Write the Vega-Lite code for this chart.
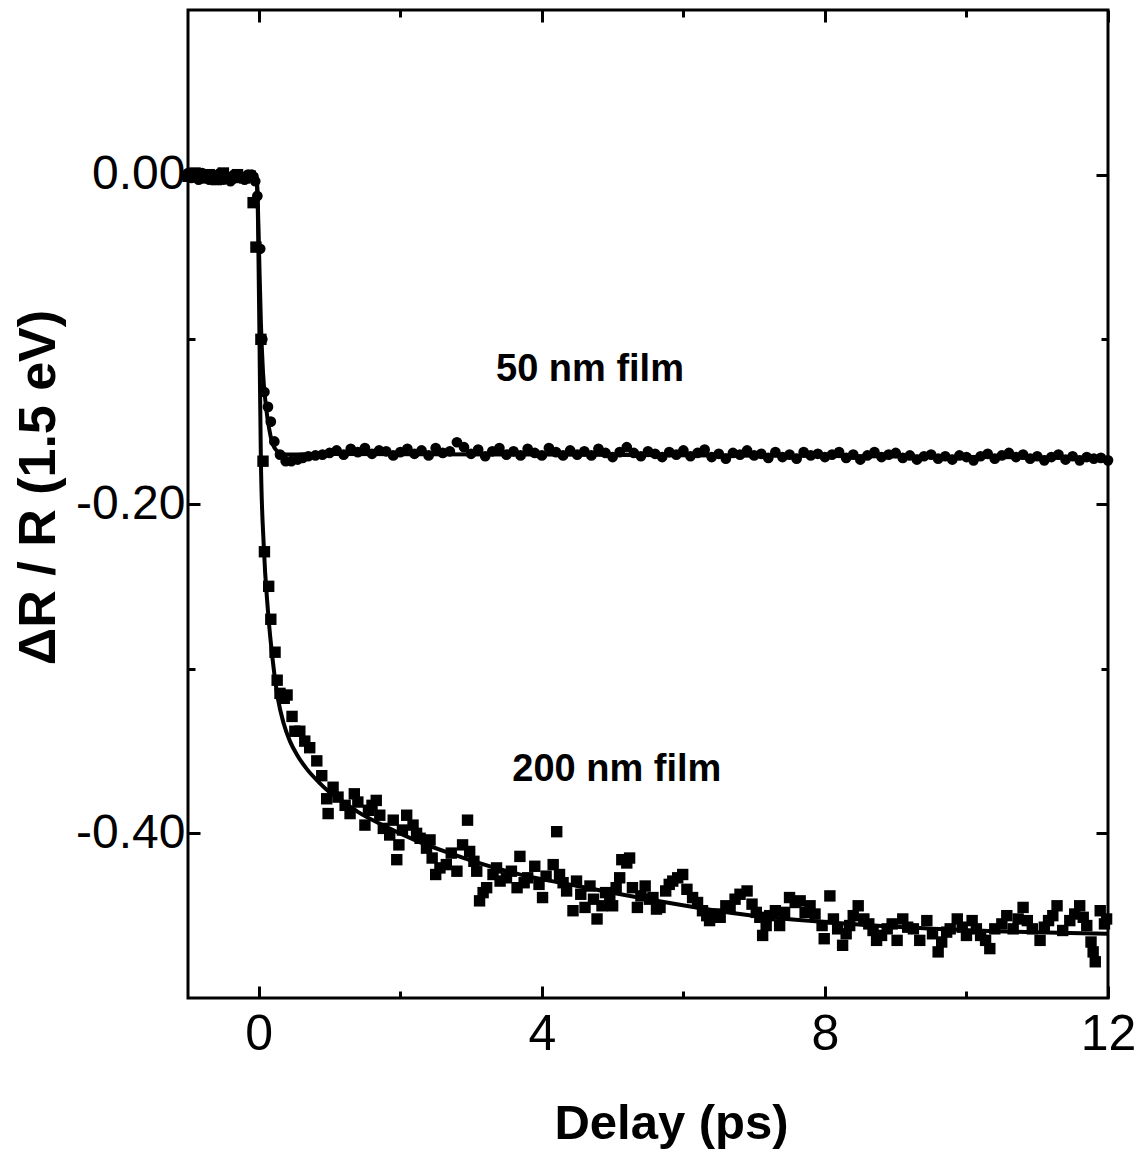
{
"$schema": "https://vega.github.io/schema/vega-lite/v6.json",
"width": 920, "height": 988,
"autosize": {"type": "none"},
"padding": {"left": 188, "top": 10, "right": 36, "bottom": 158},
"background": "white",
"config": {"view": {"stroke": "black", "strokeWidth": 3}},
"datasets": {
"f50": [
{"x":-1.00,"y":0.001},{"x":-0.95,"y":-0.002},{"x":-0.90,"y":0.000},{"x":-0.85,"y":-0.003},{"x":-0.80,"y":0.001},{"x":-0.75,"y":-0.001},{"x":-0.70,"y":-0.003},{"x":-0.65,"y":0.000},{"x":-0.60,"y":-0.002},{"x":-0.55,"y":0.001},{"x":-0.50,"y":-0.003},{"x":-0.45,"y":-0.001},{"x":-0.40,"y":-0.004},{"x":-0.35,"y":0.000},{"x":-0.30,"y":-0.002},{"x":-0.25,"y":-0.001},{"x":-0.20,"y":-0.003},{"x":-0.15,"y":0.000},{"x":-0.10,"y":0.000},{"x":-0.05,"y":-0.004},
{"x":-0.02,"y":-0.013},{"x":0.02,"y":-0.045},{"x":0.05,"y":-0.100},{"x":0.08,"y":-0.132},{"x":0.13,"y":-0.141},{"x":0.17,"y":-0.150},{"x":0.22,"y":-0.162},{"x":0.30,"y":-0.170},{"x":0.38,"y":-0.174},{"x":0.46,"y":-0.174},{"x":0.55,"y":-0.173},{"x":0.62,"y":-0.172},{"x":0.70,"y":-0.171},{"x":0.80,"y":-0.1705},
{"x":0.9,"y":-0.1700},{"x":1.0,"y":-0.1690},{"x":1.1,"y":-0.1675},{"x":1.2,"y":-0.1700},{"x":1.3,"y":-0.1665},{"x":1.4,"y":-0.1685},{"x":1.5,"y":-0.1660},{"x":1.6,"y":-0.1695},{"x":1.7,"y":-0.1675},{"x":1.8,"y":-0.1680},{"x":1.9,"y":-0.1705},{"x":2.0,"y":-0.1685},{"x":2.1,"y":-0.1665},{"x":2.2,"y":-0.1695},{"x":2.3,"y":-0.1675},{"x":2.4,"y":-0.1705},{"x":2.5,"y":-0.1660},{"x":2.6,"y":-0.1690},{"x":2.7,"y":-0.1680},{"x":2.8,"y":-0.1625},{"x":2.9,"y":-0.1655},{"x":3.0,"y":-0.1695},{"x":3.1,"y":-0.1670},{"x":3.2,"y":-0.1710},{"x":3.3,"y":-0.1680},{"x":3.4,"y":-0.1660},{"x":3.5,"y":-0.1700},{"x":3.6,"y":-0.1680},{"x":3.7,"y":-0.1705},{"x":3.8,"y":-0.1665},{"x":3.9,"y":-0.1690},{"x":4.0,"y":-0.1705},{"x":4.1,"y":-0.1660},{"x":4.2,"y":-0.1685},{"x":4.3,"y":-0.1705},{"x":4.4,"y":-0.1675},{"x":4.5,"y":-0.1700},{"x":4.6,"y":-0.1680},{"x":4.7,"y":-0.1705},{"x":4.8,"y":-0.1665},{"x":4.9,"y":-0.1690},{"x":5.0,"y":-0.1715},{"x":5.1,"y":-0.1685},{"x":5.2,"y":-0.1655},{"x":5.3,"y":-0.1690},{"x":5.4,"y":-0.1710},{"x":5.5,"y":-0.1680},{"x":5.6,"y":-0.1695},{"x":5.7,"y":-0.1715},{"x":5.8,"y":-0.1685},{"x":5.9,"y":-0.1700},{"x":6.0,"y":-0.1675},{"x":6.1,"y":-0.1710},{"x":6.2,"y":-0.1690},{"x":6.3,"y":-0.1670},{"x":6.4,"y":-0.1715},{"x":6.5,"y":-0.1695},{"x":6.6,"y":-0.1725},{"x":6.7,"y":-0.1690},{"x":6.8,"y":-0.1700},{"x":6.9,"y":-0.1675},{"x":7.0,"y":-0.1705},{"x":7.1,"y":-0.1695},{"x":7.2,"y":-0.1720},{"x":7.3,"y":-0.1685},{"x":7.4,"y":-0.1715},{"x":7.5,"y":-0.1700},{"x":7.6,"y":-0.1725},{"x":7.7,"y":-0.1685},{"x":7.8,"y":-0.1705},{"x":7.9,"y":-0.1695},{"x":8.0,"y":-0.1715},{"x":8.1,"y":-0.1700},{"x":8.2,"y":-0.1685},{"x":8.3,"y":-0.1720},{"x":8.4,"y":-0.1700},{"x":8.5,"y":-0.1730},{"x":8.6,"y":-0.1705},{"x":8.7,"y":-0.1685},{"x":8.8,"y":-0.1715},{"x":8.9,"y":-0.1700},{"x":9.0,"y":-0.1690},{"x":9.1,"y":-0.1720},{"x":9.2,"y":-0.1705},{"x":9.3,"y":-0.1730},{"x":9.4,"y":-0.1710},{"x":9.5,"y":-0.1700},{"x":9.6,"y":-0.1725},{"x":9.7,"y":-0.1710},{"x":9.8,"y":-0.1730},{"x":9.9,"y":-0.1705},{"x":10.0,"y":-0.1715},{"x":10.1,"y":-0.1735},{"x":10.2,"y":-0.1710},{"x":10.3,"y":-0.1695},{"x":10.4,"y":-0.1725},{"x":10.5,"y":-0.1705},{"x":10.6,"y":-0.1690},{"x":10.7,"y":-0.1715},{"x":10.8,"y":-0.1700},{"x":10.9,"y":-0.1725},{"x":11.0,"y":-0.1710},{"x":11.1,"y":-0.1735},{"x":11.2,"y":-0.1715},{"x":11.3,"y":-0.1700},{"x":11.4,"y":-0.1730},{"x":11.5,"y":-0.1710},{"x":11.6,"y":-0.1735},{"x":11.7,"y":-0.1715},{"x":11.8,"y":-0.1725},{"x":11.9,"y":-0.1720},{"x":12.0,"y":-0.1735}
],
"f200": [
{"x":-1.00,"y":-0.001},{"x":-0.90,"y":0.001},{"x":-0.80,"y":-0.002},{"x":-0.70,"y":0.000},{"x":-0.60,"y":-0.003},{"x":-0.50,"y":0.001},{"x":-0.40,"y":-0.002},{"x":-0.30,"y":0.000},{"x":-0.20,"y":-0.002},{"x":-0.12,"y":-0.001},
{"x":-0.08,"y":-0.017},{"x":-0.04,"y":-0.044},{"x":0.03,"y":-0.100},{"x":0.06,"y":-0.174},{"x":0.08,"y":-0.229},{"x":0.14,"y":-0.250},{"x":0.17,"y":-0.270},{"x":0.23,"y":-0.290},{"x":0.26,"y":-0.307},{"x":0.30,"y":-0.315},{"x":0.36,"y":-0.318},{"x":0.40,"y":-0.316},{"x":0.47,"y":-0.329},{"x":0.51,"y":-0.338},{"x":0.58,"y":-0.338},{"x":0.65,"y":-0.344},{"x":0.72,"y":-0.348},{"x":0.82,"y":-0.356},{"x":0.89,"y":-0.365},{"x":0.96,"y":-0.379},{"x":0.98,"y":-0.388},
{"x":1.05,"y":-0.372},{"x":1.12,"y":-0.378},{"x":1.22,"y":-0.383},{"x":1.29,"y":-0.388},{"x":1.35,"y":-0.376},{"x":1.40,"y":-0.381},{"x":1.50,"y":-0.395},{"x":1.55,"y":-0.386},{"x":1.60,"y":-0.383},{"x":1.66,"y":-0.380},{"x":1.71,"y":-0.389},{"x":1.76,"y":-0.397},{"x":1.85,"y":-0.401},{"x":1.90,"y":-0.392},{"x":1.95,"y":-0.416},{"x":1.98,"y":-0.407},{"x":2.03,"y":-0.398},{"x":2.09,"y":-0.389},{"x":2.18,"y":-0.395},{"x":2.23,"y":-0.400},{"x":2.28,"y":-0.403},{"x":2.37,"y":-0.409},{"x":2.42,"y":-0.404},{"x":2.45,"y":-0.415},{"x":2.50,"y":-0.425},{"x":2.56,"y":-0.421},{"x":2.65,"y":-0.419},{"x":2.72,"y":-0.412},{"x":2.80,"y":-0.423},{"x":2.88,"y":-0.407},{"x":2.95,"y":-0.392},{"x":2.98,"y":-0.411},{"x":3.04,"y":-0.417},{"x":3.08,"y":-0.423},{"x":3.12,"y":-0.441},{"x":3.17,"y":-0.436},{"x":3.22,"y":-0.433},{"x":3.31,"y":-0.425},{"x":3.36,"y":-0.421},{"x":3.41,"y":-0.429},{"x":3.50,"y":-0.427},{"x":3.57,"y":-0.423},{"x":3.65,"y":-0.433},{"x":3.69,"y":-0.414},{"x":3.75,"y":-0.430},{"x":3.80,"y":-0.427},{"x":3.90,"y":-0.420},{"x":3.96,"y":-0.431},{"x":4.01,"y":-0.439},{"x":4.06,"y":-0.426},{"x":4.16,"y":-0.419},{"x":4.21,"y":-0.399},{"x":4.25,"y":-0.425},{"x":4.30,"y":-0.430},{"x":4.35,"y":-0.435},{"x":4.44,"y":-0.447},{"x":4.49,"y":-0.429},{"x":4.55,"y":-0.437},{"x":4.61,"y":-0.445},{"x":4.68,"y":-0.432},{"x":4.73,"y":-0.440},{"x":4.78,"y":-0.452},{"x":4.85,"y":-0.444},{"x":4.90,"y":-0.436},{"x":4.96,"y":-0.439},{"x":5.00,"y":-0.444},{"x":5.05,"y":-0.433},{"x":5.10,"y":-0.427},{"x":5.13,"y":-0.416},{"x":5.20,"y":-0.418},{"x":5.24,"y":-0.415},{"x":5.28,"y":-0.433},{"x":5.35,"y":-0.445},{"x":5.40,"y":-0.438},{"x":5.46,"y":-0.432},{"x":5.52,"y":-0.440},{"x":5.57,"y":-0.439},{"x":5.62,"y":-0.446},{"x":5.67,"y":-0.445},{"x":5.75,"y":-0.435},{"x":5.80,"y":-0.431},{"x":5.85,"y":-0.429},{"x":5.92,"y":-0.427},{"x":5.99,"y":-0.425},{"x":6.05,"y":-0.434},{"x":6.13,"y":-0.439},{"x":6.20,"y":-0.442},{"x":6.27,"y":-0.447},{"x":6.33,"y":-0.450},{"x":6.37,"y":-0.453},{"x":6.45,"y":-0.449},{"x":6.52,"y":-0.451},{"x":6.60,"y":-0.444},{"x":6.66,"y":-0.445},{"x":6.73,"y":-0.440},{"x":6.80,"y":-0.437},{"x":6.90,"y":-0.435},{"x":6.97,"y":-0.443},{"x":7.03,"y":-0.448},{"x":7.08,"y":-0.451},{"x":7.12,"y":-0.462},{"x":7.17,"y":-0.456},{"x":7.22,"y":-0.450},{"x":7.30,"y":-0.447},{"x":7.36,"y":-0.456},{"x":7.43,"y":-0.448},{"x":7.50,"y":-0.439},{"x":7.58,"y":-0.442},{"x":7.65,"y":-0.441},{"x":7.72,"y":-0.448},{"x":7.79,"y":-0.444},{"x":7.86,"y":-0.449},{"x":7.96,"y":-0.456},{"x":7.99,"y":-0.464},{"x":8.07,"y":-0.438},{"x":8.12,"y":-0.452},{"x":8.18,"y":-0.458},{"x":8.25,"y":-0.468},{"x":8.30,"y":-0.461},{"x":8.35,"y":-0.456},{"x":8.40,"y":-0.450},{"x":8.47,"y":-0.444},{"x":8.55,"y":-0.452},{"x":8.62,"y":-0.455},{"x":8.68,"y":-0.459},{"x":8.73,"y":-0.465},{"x":8.80,"y":-0.462},{"x":8.88,"y":-0.458},{"x":8.95,"y":-0.455},{"x":9.02,"y":-0.465},{"x":9.10,"y":-0.452},{"x":9.17,"y":-0.457},{"x":9.25,"y":-0.458},{"x":9.34,"y":-0.465},{"x":9.44,"y":-0.453},{"x":9.52,"y":-0.461},{"x":9.60,"y":-0.472},{"x":9.65,"y":-0.466},{"x":9.72,"y":-0.460},{"x":9.77,"y":-0.458},{"x":9.87,"y":-0.452},{"x":9.94,"y":-0.457},{"x":10.00,"y":-0.462},{"x":10.08,"y":-0.453},{"x":10.14,"y":-0.458},{"x":10.20,"y":-0.462},{"x":10.27,"y":-0.465},{"x":10.33,"y":-0.470},{"x":10.40,"y":-0.458},{"x":10.50,"y":-0.455},{"x":10.57,"y":-0.450},{"x":10.66,"y":-0.458},{"x":10.73,"y":-0.452},{"x":10.80,"y":-0.445},{"x":10.86,"y":-0.453},{"x":10.93,"y":-0.458},{"x":11.04,"y":-0.465},{"x":11.10,"y":-0.457},{"x":11.16,"y":-0.453},{"x":11.22,"y":-0.450},{"x":11.28,"y":-0.444},{"x":11.36,"y":-0.459},{"x":11.46,"y":-0.453},{"x":11.53,"y":-0.449},{"x":11.60,"y":-0.444},{"x":11.65,"y":-0.451},{"x":11.70,"y":-0.456},{"x":11.76,"y":-0.466},{"x":11.79,"y":-0.472},{"x":11.82,"y":-0.478},{"x":11.89,"y":-0.447},{"x":11.95,"y":-0.455},{"x":11.98,"y":-0.452}
],
"fit50": [
{"x":-1,"y":0},{"x":-0.05,"y":0},{"x":-0.02,"y":-0.01},{"x":0.0,"y":-0.04},{"x":0.03,"y":-0.09},{"x":0.06,"y":-0.12},{"x":0.1,"y":-0.14},{"x":0.15,"y":-0.155},{"x":0.2,"y":-0.164},{"x":0.3,"y":-0.169},{"x":0.4,"y":-0.1700},{"x":1,"y":-0.1697},{"x":4,"y":-0.1700},{"x":8,"y":-0.1708},{"x":12,"y":-0.1720}
],
"fit200": [
{"x":-1,"y":0},{"x":-0.03,"y":0},{"x":-0.01,"y":-0.03},{"x":0.01,"y":-0.1},{"x":0.03,"y":-0.174},{"x":0.07,"y":-0.225},{"x":0.13,"y":-0.265},{"x":0.2,"y":-0.296},{"x":0.27,"y":-0.318},{"x":0.35,"y":-0.333},{"x":0.44,"y":-0.344},{"x":0.55,"y":-0.353},{"x":0.68,"y":-0.361},{"x":0.85,"y":-0.369},{"x":1.0,"y":-0.375},{"x":1.2,"y":-0.381},{"x":1.4,"y":-0.387},{"x":1.8,"y":-0.396},{"x":2.2,"y":-0.404},{"x":2.9,"y":-0.415},{"x":3.6,"y":-0.424},{"x":4.5,"y":-0.432},{"x":5.5,"y":-0.440},{"x":6.8,"y":-0.449},{"x":8.7,"y":-0.456},{"x":10.1,"y":-0.459},{"x":12,"y":-0.461}
],
"labels": [
{"x":4.68,"y":-0.1255,"label":"50 nm film"},
{"x":5.06,"y":-0.368,"label":"200 nm film"}
]
},
"layer": [
{
"encoding": {
"x": {"field": "x", "type": "quantitative",
"scale": {"domain": [-1, 12], "nice": false, "zero": false},
"axis": {"orient": "bottom", "values": [0, 2, 4, 6, 8, 10, 12], "domain": false, "grid": false,
"tickColor": "black", "tickWidth": 3,
"tickSize": {"condition": {"test": "datum.value % 4 == 0", "value": -12}, "value": -7},
"labelExpr": "datum.value % 4 == 0 ? datum.label : ''",
"labelFont": "Liberation Sans", "labelFontSize": 50, "labelColor": "black", "labelPadding": 23,
"labelFlush": false, "labelOverlap": false,
"title": "Delay (ps)", "titleFont": "Liberation Sans", "titleFontSize": 49, "titleFontWeight": "bold", "titleColor": "black",
"titleX": 483, "titleY": 140, "titleBaseline": "alphabetic", "titleAlign": "center"}},
"y": {"field": "y", "type": "quantitative",
"scale": {"domain": [-0.5, 0.1], "nice": false, "zero": false},
"axis": {"orient": "left", "values": [0, -0.1, -0.2, -0.3, -0.4], "domain": false, "grid": false, "format": ".2f",
"tickColor": "black", "tickWidth": 3,
"tickSize": {"condition": {"test": "abs(round(datum.value*10)) % 2 == 0", "value": -12}, "value": -7},
"labelExpr": "abs(round(datum.value*10)) % 2 == 0 ? replace(datum.label, '\u2212', '-') : ''",
"labelFont": "Liberation Sans", "labelFontSize": 48, "labelColor": "black", "labelPadding": 15,
"labelFlush": false, "labelOverlap": false, "labelBaseline": "middle",
"title": "\u0394R / R (1.5 eV)", "titleFont": "Liberation Sans", "titleFontSize": 52, "titleFontWeight": "bold", "titleColor": "black",
"titleAngle": 270, "titleX": -134, "titleY": 477, "titleBaseline": "alphabetic", "titleAlign": "center"}}
},
"layer": [
{"data": {"name": "f50"}, "mark": {"type": "circle", "size": 115, "color": "black", "opacity": 1}},
{"data": {"name": "f200"}, "mark": {"type": "square", "size": 130, "color": "black", "opacity": 1}},
{"data": {"name": "fit50"}, "mark": {"type": "line", "color": "black", "strokeWidth": 4, "interpolate": "monotone"}},
{"data": {"name": "fit200"}, "mark": {"type": "line", "color": "black", "strokeWidth": 4, "interpolate": "monotone"}},
{"data": {"name": "labels"}, "mark": {"type": "text", "font": "Liberation Sans", "fontSize": 38, "fontWeight": "bold", "color": "black", "align": "center", "baseline": "alphabetic"},
"encoding": {"text": {"field": "label"}}}
]
},
{
"data": {"name": "labels"},
"mark": {"type": "point", "opacity": 0},
"encoding": {
"x": {"field": "x", "type": "quantitative",
"scale": {"domain": [-1, 12], "nice": false, "zero": false},
"axis": {"orient": "top", "values": [0, 2, 4, 6, 8, 10, 12], "domain": false, "grid": false, "labels": false, "title": null,
"tickColor": "black", "tickWidth": 3,
"tickSize": {"condition": {"test": "datum.value % 4 == 0", "value": -12}, "value": -7}}},
"y": {"field": "y", "type": "quantitative",
"scale": {"domain": [-0.5, 0.1], "nice": false, "zero": false},
"axis": {"orient": "right", "values": [0, -0.1, -0.2, -0.3, -0.4], "domain": false, "grid": false, "labels": false, "title": null,
"tickColor": "black", "tickWidth": 3,
"tickSize": {"condition": {"test": "abs(round(datum.value*10)) % 2 == 0", "value": -12}, "value": -7}}}
}
}
],
"resolve": {"scale": {"x": "independent", "y": "independent"}}
}
